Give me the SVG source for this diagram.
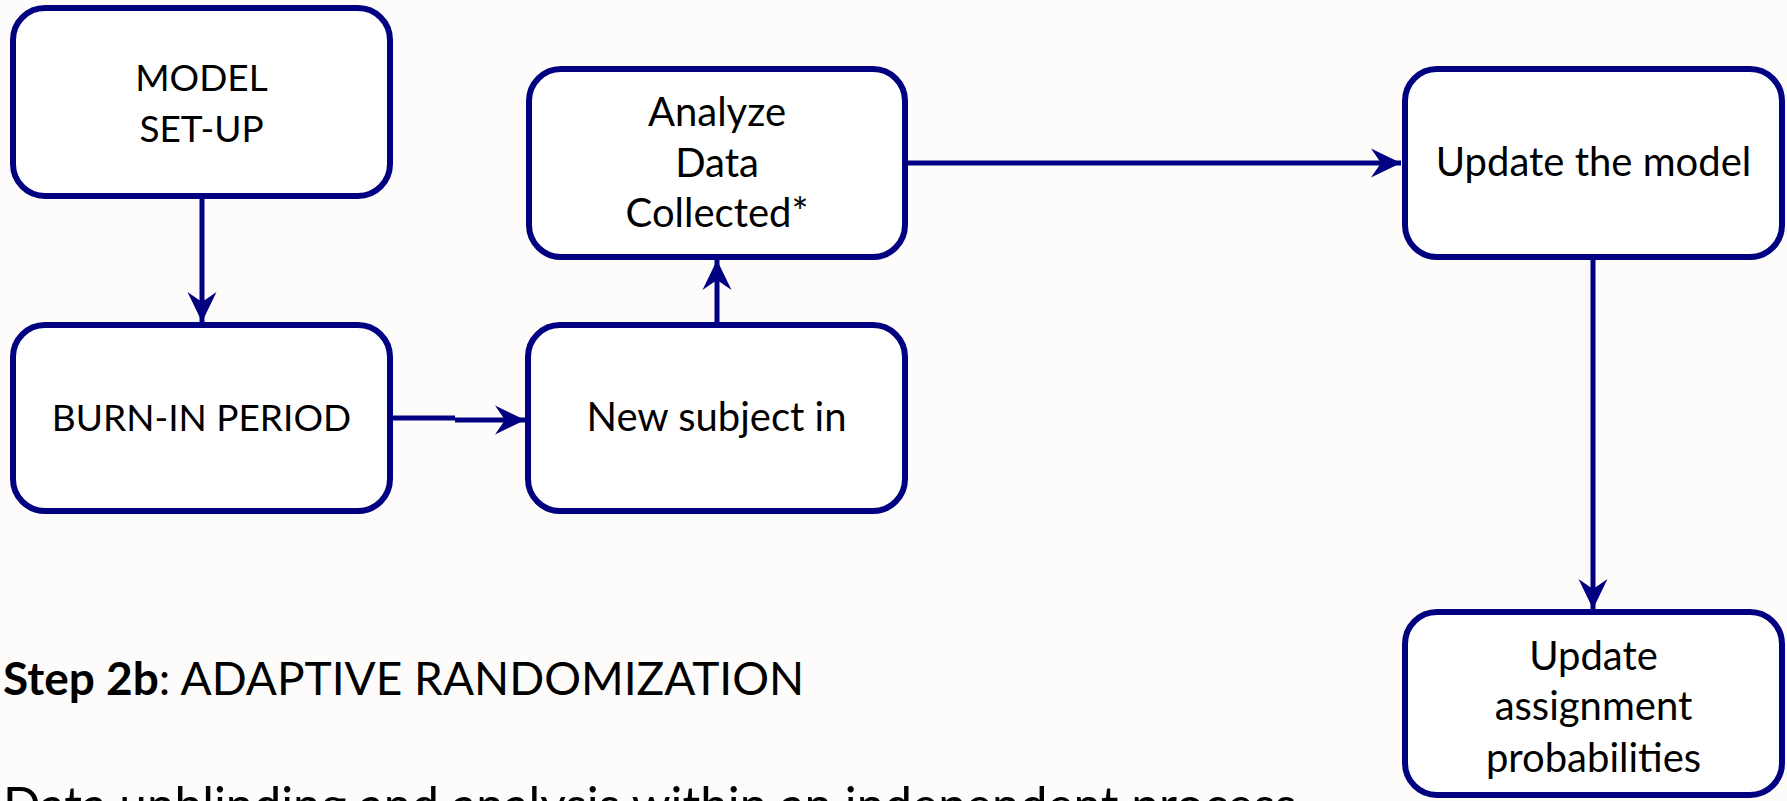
<svg xmlns="http://www.w3.org/2000/svg" width="1787" height="801" viewBox="0 0 1787 801">
  <style>
    .box { fill: #ffffff; stroke: #000080; stroke-width: 6; }
    .lbl { font-family: Lato, "Open Sans", "Liberation Sans", sans-serif; font-size: 40px; fill: #000000; text-anchor: middle; }
    .caps { font-size: 37px; }
    .note { font-family: Lato, "Open Sans", "Liberation Sans", sans-serif; font-size: 46px; fill: #000000; }
    .note.wide { font-size: 49.5px; }
    .link { fill: none; stroke: #000080; stroke-width: 5; }
  </style>
  <defs>
    <marker id="head" markerUnits="userSpaceOnUse" markerWidth="32" markerHeight="32" refX="30" refY="15" orient="auto">
      <path d="M0,0.5 L30,15 L0,29.5 L10,15 Z" fill="#000080"/>
    </marker>
  </defs>

  <rect width="1787" height="801" fill="#fdfcfb"/>

  <!-- connectors -->
  <g id="connectors">
    <path class="link" d="M202,199 V322" marker-end="url(#head)"/>
    <path class="link" d="M393,418 H455 M455,420 H525" marker-end="url(#head)"/>
    <path class="link" d="M717,322 V260" marker-end="url(#head)"/>
    <path class="link" d="M907,163 H1401" marker-end="url(#head)"/>
    <path class="link" d="M1593,260 V609" marker-end="url(#head)"/>
  </g>

  <g id="model-setup">
    <rect class="box" x="13" y="8" width="377" height="188" rx="32"/>
    <text class="lbl caps" x="201.5" y="91">MODEL</text>
    <text class="lbl caps" x="201.5" y="142">SET-UP</text>
  </g>

  <g id="burn-in">
    <rect class="box" x="13" y="325" width="377" height="186" rx="32"/>
    <text class="lbl caps" x="201.5" y="431">BURN-IN PERIOD</text>
  </g>

  <g id="new-subject">
    <rect class="box" x="528" y="325" width="377" height="186" rx="32"/>
    <text class="lbl" x="716.5" y="431">New subject in</text>
  </g>

  <g id="analyze-data">
    <rect class="box" x="529" y="69" width="376" height="188" rx="32"/>
    <text class="lbl" x="717" y="126">Analyze</text>
    <text class="lbl" x="717" y="177">Data</text>
    <text class="lbl" x="717" y="227">Collected*</text>
  </g>

  <g id="update-model">
    <rect class="box" x="1405" y="69" width="377" height="188" rx="32"/>
    <text class="lbl" x="1593.5" y="176">Update the model</text>
  </g>

  <g id="update-probabilities">
    <rect class="box" x="1405" y="612" width="377" height="183" rx="32"/>
    <text class="lbl" x="1593.5" y="670">Update</text>
    <text class="lbl" x="1593.5" y="720">assignment</text>
    <text class="lbl" x="1593.5" y="772">probabilities</text>
  </g>

  <g id="notes">
    <text class="note" x="3" y="695"><tspan font-weight="bold">Step 2b</tspan>: ADAPTIVE RANDOMIZATION</text>
    <text class="note wide" x="3" y="823">Data unblinding and analysis within an independent process</text>
  </g>
</svg>
